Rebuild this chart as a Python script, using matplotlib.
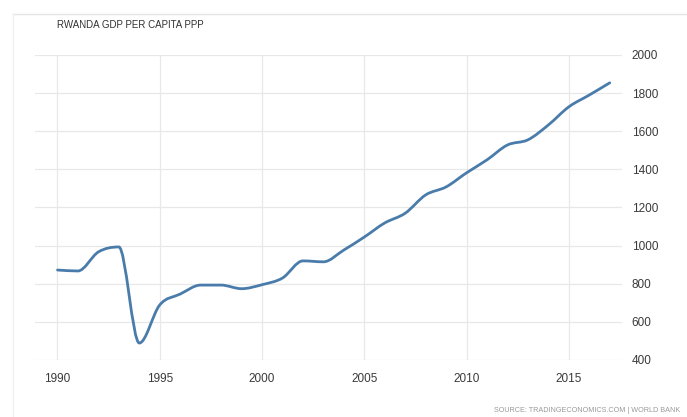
import numpy as np
import matplotlib
matplotlib.use("Agg")
import matplotlib.pyplot as plt
from matplotlib.path import Path
from matplotlib.patches import PathPatch
from matplotlib.lines import Line2D

# Rwanda GDP per capita PPP
years = [1990, 1991, 1992, 1993, 1994, 1995, 1996, 1997, 1998, 1999,
         2000, 2001, 2002, 2003, 2004, 2005, 2006, 2007, 2008, 2009,
         2010, 2011, 2012, 2013, 2014, 2015, 2016, 2017]
gdp = [872, 867, 967, 993, 489, 689, 746, 793, 793, 774,
       795, 830, 920, 915, 977, 1045, 1119, 1170, 1266, 1308,
       1382, 1450, 1528, 1555, 1633, 1728, 1790, 1854]
x_ticks = [1990, 1995, 2000, 2005, 2010, 2015]
y_ticks = [400, 600, 800, 1000, 1200, 1400, 1600, 1800, 2000]

title = "RWANDA GDP PER CAPITA PPP"
source = "SOURCE: TRADINGECONOMICS.COM | WORLD BANK"

plt.rcParams['font.family'] = ['Liberation Sans', 'DejaVu Sans']


def smooth_path(xs, ys):
    """Smooth bezier path through the points, flat at local extrema."""
    xs = np.asarray(xs, float)
    ys = np.asarray(ys, float)
    h = np.diff(xs)
    d = np.diff(ys) / h
    m = np.zeros_like(ys)
    m[0], m[-1] = d[0], d[-1]
    for i in range(1, len(xs) - 1):
        if d[i - 1] * d[i] > 0:
            m[i] = (d[i - 1] + d[i]) / 2
            lim = 3 * min(abs(d[i - 1]), abs(d[i]))
            m[i] = np.sign(m[i]) * min(abs(m[i]), lim)
    verts = [(xs[0], ys[0])]
    codes = [Path.MOVETO]
    for i in range(len(xs) - 1):
        verts += [(xs[i] + h[i] / 3, ys[i] + m[i] * h[i] / 3),
                  (xs[i + 1] - h[i] / 3, ys[i + 1] - m[i + 1] * h[i] / 3),
                  (xs[i + 1], ys[i + 1])]
        codes += [Path.CURVE4] * 3
    return Path(verts, codes)


fig = plt.figure(figsize=(6.87, 4.17), dpi=100)
ax = fig.add_axes([35 / 687, 1 - 360 / 417, (622 - 35) / 687, (360 - 55) / 417])

ax.add_patch(PathPatch(smooth_path(years, gdp), facecolor='none',
                       edgecolor='#4a7cab', linewidth=2.0, zorder=3,
                       capstyle='round', joinstyle='round'))

ax.set_xlim(1988.9, 2017.6)
ax.set_ylim(400, 2000)
ax.set_xticks(x_ticks)
ax.set_yticks(y_ticks)
ax.yaxis.tick_right()
ax.grid(True, color='#e8e8e8', linewidth=0.9)
for s in ax.spines.values():
    s.set_visible(False)
ax.tick_params(length=0, labelsize=8.5, labelcolor='#3a3a3a')
ax.tick_params(axis='y', pad=7)
ax.tick_params(axis='x', pad=9)

fig.text(57 / 687, 1 - 25 / 417, title, fontsize=7, color='#333333',
         va='center', ha='left')
fig.text(680 / 687, 1 - 410 / 417, source, fontsize=5.2, color='#999999',
         va='center', ha='right')

# faint frame lines of the original screenshot
fig.add_artist(Line2D([13 / 687, 1], [1 - 14 / 417, 1 - 14 / 417],
                      transform=fig.transFigure, color='#e4e4e4', lw=1))
fig.add_artist(Line2D([13 / 687, 13 / 687], [0, 1 - 14 / 417],
                      transform=fig.transFigure, color='#f0f0f0', lw=1))

fig.savefig("out.png", dpi=100, facecolor='white')
